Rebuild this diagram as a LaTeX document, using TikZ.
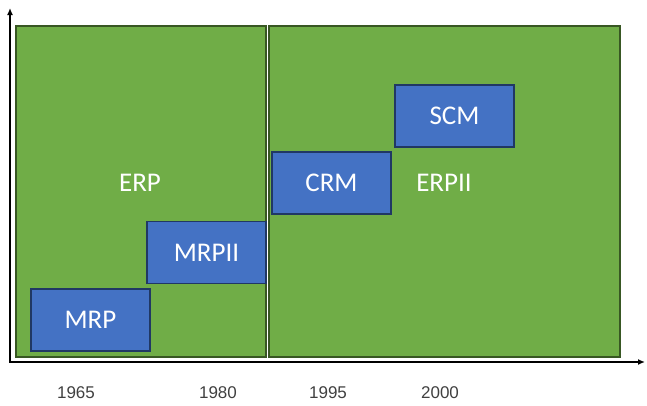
\documentclass[tikz,border=0pt]{standalone}
\usepackage{fontspec}
\setmainfont{Carlito}
\newfontfamily\yearfont{Liberation Sans}
\usetikzlibrary{positioning,arrows.meta}
\definecolor{gruen}{RGB}{112,173,71}
\definecolor{dgruen}{RGB}{56,87,35}
\definecolor{blau}{RGB}{68,114,196}
\definecolor{dblau}{RGB}{32,56,100}
\tikzset{>={Latex[length=7pt,width=6pt]}}

\begin{document}
\begin{tikzpicture}[x=1pt,y=-1pt]
        \tikzset{
        era/.style={draw=dgruen, fill=gruen, line width=1.5pt, inner sep=0pt},
        module/.style={draw=dblau, fill=blau, line width=1.8pt, minimum width=119pt, minimum height=62pt, text=white, font=\fontsize{27}{30}\selectfont},
        eralabel/.style={text=white, font=\fontsize{27}{30}\selectfont},
        year/.style={text=black!75, font=\yearfont\fontsize{17}{19}\selectfont},
        }
        \useasboundingbox (0,0) rectangle (647,405);

        \coordinate (ytop) at (10,8);     % top of time axis
        \coordinate (xend) at (645,362);  % end of time axis

        % Eras.
        \node[era, minimum width=250pt, minimum height=331pt] (erp)   at (141,191.5) {};
        \node[era, minimum width=351pt, minimum height=331pt] (erpii) at (444.5,191.5) {};
        \node[eralabel] (erplabel)   at (140,183) {ERP};
        \node[eralabel] (erpiilabel) at (444,183) {ERPII};

        % Axes.
        \draw[<->, line width=1.6pt] (ytop) |- (xend);

        % Modules.
        \node[module] (mrp)   at (90.5,320)   {MRP};
        \node[module] (mrpii) at (206.5,252.5) {MRPII};
        \node[module] (crm)   at (331.5,183)  {CRM};
        \node[module] (scm)   at (454.5,116)  {SCM};

        % Years.
        \node[year] (y1965) at (76,393)  {1965};
        \node[year] (y1980) at (218,393) {1980};
        \node[year] (y1995) at (328,393) {1995};
        \node[year] (y2000) at (440,393) {2000};
\end{tikzpicture}
\end{document}
